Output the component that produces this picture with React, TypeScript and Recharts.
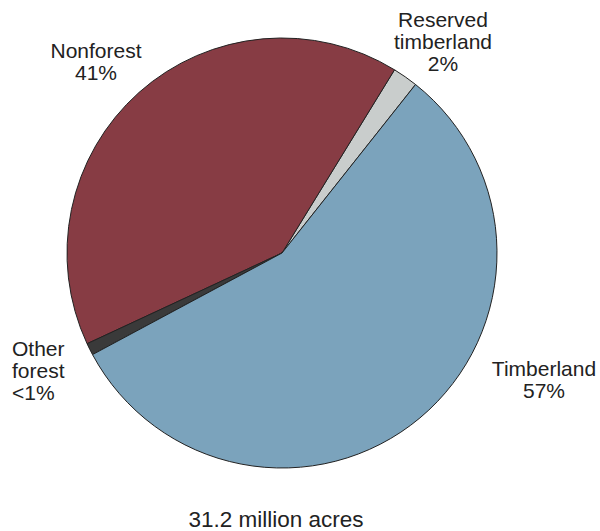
import { Cell, Pie, PieChart } from "recharts";

// Land area by class, percent of 31.2 million acres
const categories = ["Reserved timberland", "Nonforest", "Other forest", "Timberland"];
const shares = [1.9, 40.7, 0.9, 56.5];
const labelLines = [
  ["Reserved", "timberland", "2%"],
  ["Nonforest", "41%"],
  ["Other", "forest", "<1%"],
  ["Timberland", "57%"],
];
const subtitle = "31.2 million acres";

const colors = ["#C9CDCC", "#873C44", "#3A3A3A", "#7BA3BC"];

// label placement relative to the pie centre
const labelLayout: Record<string, { dx: number; dy: number; anchor: "start" | "middle" }> = {
  "Reserved timberland": { dx: 161, dy: -226, anchor: "middle" },
  Nonforest: { dx: -186, dy: -195, anchor: "middle" },
  "Other forest": { dx: -270, dy: 103, anchor: "start" },
  Timberland: { dx: 262, dy: 123, anchor: "middle" },
};

const data = categories.map((name, i) => ({ name, value: shares[i], lines: labelLines[i] }));

const FONT = "'Liberation Sans', Arial, Helvetica, sans-serif";

const renderLabel = (props: any) => {
  const { cx, cy, index } = props;
  const item = data[index];
  const pos = labelLayout[item.name];
  return (
    <text
      x={cx + pos.dx}
      y={cy + pos.dy}
      textAnchor={pos.anchor}
      fill="#222"
      fontSize={21}
      fontFamily={FONT}
    >
      {item.lines.map((line, i) => (
        <tspan key={i} x={cx + pos.dx} dy={i === 0 ? 0 : 22}>
          {line}
        </tspan>
      ))}
    </text>
  );
};

export default function App() {
  return (
    <div style={{ position: "absolute", left: 0, top: 0, width: 600, height: 531, background: "#fff" }}>
      <PieChart width={600} height={531} margin={{ top: 0, right: 0, bottom: 0, left: 0 }}>
        <Pie
          data={data}
          dataKey="value"
          nameKey="name"
          cx={282}
          cy={253}
          outerRadius={215}
          startAngle={51.6}
          endAngle={411.6}
          stroke="#222"
          strokeWidth={1}
          label={renderLabel}
          labelLine={false}
          isAnimationActive={false}
        >
          {data.map((d, i) => (
            <Cell key={d.name} fill={colors[i]} />
          ))}
        </Pie>
        <text x={276} y={527} textAnchor="middle" fontSize={22.5} fill="#222" fontFamily={FONT}>
          {subtitle}
        </text>
      </PieChart>
    </div>
  );
}
